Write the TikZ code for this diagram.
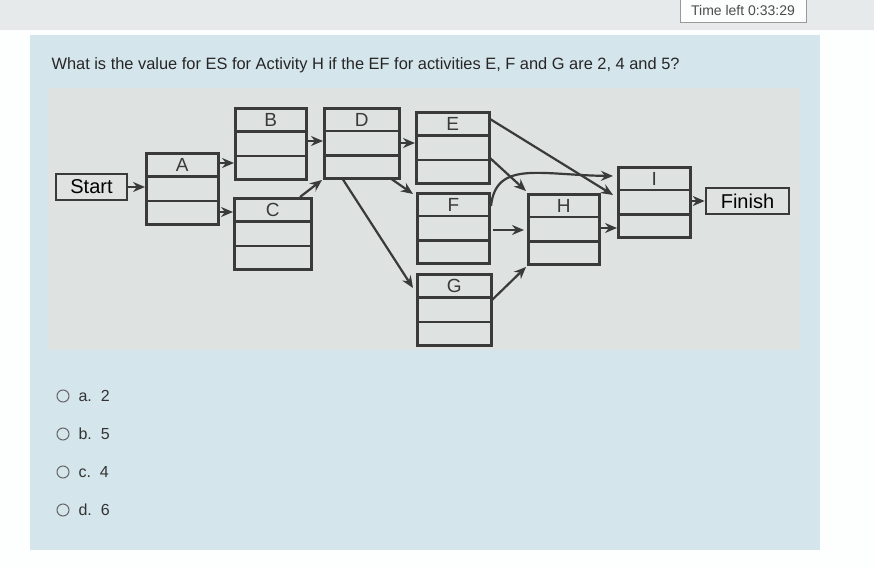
\documentclass[tikz,border=0pt]{standalone}
\usepackage{fontspec}
\setmainfont{Liberation Sans}
\usetikzlibrary{arrows.meta,calc}
\definecolor{panel}{HTML}{D5E5EC}
\definecolor{dgm}{HTML}{DEE3E1}
\definecolor{topbar}{HTML}{E6EAEB}
\definecolor{ink}{HTML}{3A3A3A}
\tikzset{
  act/.style={draw=ink,line width=2.6pt,fill=dgm,inner sep=0pt},
  lab/.style={draw=ink,line width=2.6pt,fill=dgm,inner sep=2pt,font=\fontsize{20}{20}\selectfont,minimum height=26pt},
  conn/.style={draw=ink,line width=2.2pt,-{Stealth[length=12pt,width=10pt]}},
  opt/.style={font=\fontsize{16}{16}\selectfont,anchor=west,text=black!80},
  circ/.style={draw=black!60,circle,minimum size=12pt,inner sep=0pt,line width=1pt}
}
\newcommand{\actbox}[6]{% name, x1,y1,x2,y2, letter
  \node[act,minimum width=#4-#2,minimum height=#5-#3,anchor=north west] (#1) at (#2,#3) {};
  \draw[ink,line width=2.6pt] ($(#1.north west)!0.333!(#1.south west)$) -- ($(#1.north east)!0.333!(#1.south east)$);
  \draw[ink,line width=2.6pt] ($(#1.north west)!0.667!(#1.south west)$) -- ($(#1.north east)!0.667!(#1.south east)$);
  \node[font=\fontsize{19}{19}\selectfont,text=ink,inner sep=0pt] (#1t) at ($(#1.north west)!0.5!(#1.north east)+(0,13)$) {#6};
}
\begin{document}
\begin{tikzpicture}[x=1pt,y=-1pt]
\useasboundingbox (0,0) rectangle (874,569);
\fill[white!95!panel] (0,0) rectangle (874,569);
\fill[topbar] (0,0) rectangle (874,30);
\fill[panel] (30,35) rectangle (820,550);
\fill[dgm] (48,88) rectangle (800,350);
\node[draw=black!40,fill=white!90!topbar,font=\fontsize{14}{14}\selectfont,text=black!70,minimum width=126pt,minimum height=24pt] (time) at (743,10) {Time left 0:33:29};
\node[anchor=west,font=\fontsize{16.4}{16.4}\selectfont,text=black!85] (q) at (48,65) {What is the value for ES for Activity H if the EF for activities E, F and G are 2, 4 and 5?};
\actbox{A}{145}{152}{217}{223}{A}
\actbox{B}{234}{107}{305}{178}{B}
\actbox{C}{233}{197}{310}{268}{C}
\actbox{D}{323}{107}{398}{177}{D}
\actbox{E}{415}{111}{488}{182}{E}
\actbox{F}{416}{192}{488}{262}{F}
\actbox{G}{416}{273}{490}{344}{G}
\actbox{H}{527}{193}{598}{263}{H}
\actbox{I}{617}{166}{689}{236}{I}
\node[lab,minimum width=71pt] (start) at (91.5,187) {Start};
\node[lab,minimum width=83pt] (finish) at (747.5,201) {Finish};
\draw[conn] (start.east) -- (A.west|-start.east);
\draw[conn] (A.east|-0,163) -- (B.west|-0,163);
\draw[conn] (A.east|-0,212) -- (C.west|-0,212);
\draw[conn] (B.east|-0,141) -- (D.west|-0,141);
\draw[conn] (300,197) -- (322,180);
\draw[conn] (D.east|-0,143) -- (E.west|-0,143);
\draw[conn] (390,178) -- (413,194);
\draw[conn] (342,178) -- (413,288);
\draw[conn] (490,158) -- (526,191);
\draw[conn] (490,119) -- (613,195);
\draw[conn] (491,206) .. controls (496,160) and (540,175) .. (613,176);
\draw[conn] (493,230) -- (524,230);
\draw[conn] (491,301) -- (526,267);
\draw[conn] (H.east|-0,228) -- (I.west|-0,228);
\draw[conn] (I.east|-finish) -- (finish.west);
\foreach \y/\l/\v in {396/a./2,434/b./5,472/c./4,510/d./6}{
  \node[circ] (c\l) at (63,\y) {};
  \node[opt] (o\l) at (75,\y) {\l\ \ \v};
}
\end{tikzpicture}
\end{document}
